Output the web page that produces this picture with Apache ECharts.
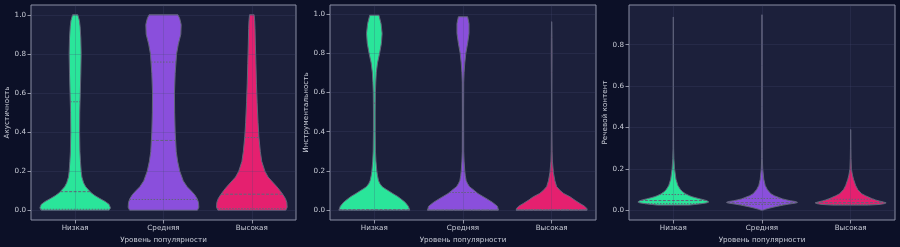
<!DOCTYPE html>
<html><head><meta charset="utf-8">
<script src="https://cdn.jsdelivr.net/npm/echarts@6/dist/echarts.min.js"></script>
<style>html,body{margin:0;padding:0;background:#0c1027;}#c{width:900px;height:247px;}</style>
</head><body><div id="c"></div><script>
const categories = ['Низкая', 'Средняя', 'Высокая'];
const xTicks = [0, 1, 2];
const yTicksFull = [0, 0.2, 0.4, 0.6, 0.8, 1.0];
const yTicksSpeech = [0, 0.2, 0.4, 0.6, 0.8];
const panelTitles = ['Акустичность', 'Инструментальность', 'Речевой контент'];
const xTitle = 'Уровень популярности';

// violin profiles: [value, relative half-width]
const acousticLow = [[0,0.96],[0.012,1.0],[0.03,0.96],[0.045,0.85],[0.06,0.7],[0.075,0.56],[0.09,0.45],[0.1,0.4],[0.12,0.3],[0.14,0.24],[0.17,0.19],[0.2,0.17],[0.25,0.15],[0.3,0.135],[0.4,0.125],[0.5,0.13],[0.6,0.145],[0.7,0.16],[0.8,0.17],[0.88,0.16],[0.94,0.14],[0.97,0.12],[1.0,0.075]];
const acousticMid = [[0,0.96],[0.015,1.0],[0.04,0.99],[0.06,0.95],[0.08,0.88],[0.1,0.78],[0.12,0.67],[0.15,0.56],[0.2,0.46],[0.25,0.4],[0.3,0.36],[0.4,0.33],[0.5,0.315],[0.6,0.31],[0.7,0.33],[0.8,0.37],[0.85,0.42],[0.9,0.49],[0.95,0.5],[0.98,0.46],[1.0,0.41]];
const acousticHigh = [[0,0.96],[0.015,1.0],[0.04,0.99],[0.06,0.95],[0.08,0.88],[0.1,0.8],[0.12,0.71],[0.15,0.56],[0.17,0.46],[0.2,0.37],[0.25,0.28],[0.3,0.24],[0.375,0.2],[0.45,0.175],[0.55,0.15],[0.65,0.13],[0.75,0.115],[0.85,0.1],[0.93,0.09],[0.97,0.08],[1.0,0.065]];
const acousticQuartiles = [[0.005,0.095,0.555],[0.055,0.357,0.758],[0.008,0.082,0.372]];

const instrLow = [[0,1.0],[0.02,0.96],[0.04,0.87],[0.055,0.77],[0.07,0.66],[0.085,0.52],[0.1,0.39],[0.11,0.3],[0.12,0.22],[0.135,0.16],[0.15,0.12],[0.175,0.09],[0.2,0.07],[0.25,0.045],[0.3,0.032],[0.4,0.025],[0.5,0.024],[0.6,0.03],[0.65,0.04],[0.7,0.055],[0.75,0.09],[0.8,0.15],[0.85,0.2],[0.9,0.22],[0.95,0.19],[0.993,0.13]];
const instrMid = [[0,1.0],[0.02,0.97],[0.04,0.83],[0.055,0.7],[0.07,0.56],[0.085,0.42],[0.1,0.32],[0.11,0.25],[0.12,0.18],[0.135,0.13],[0.15,0.09],[0.175,0.065],[0.2,0.05],[0.25,0.03],[0.3,0.02],[0.5,0.017],[0.65,0.02],[0.7,0.03],[0.75,0.05],[0.8,0.08],[0.85,0.13],[0.9,0.17],[0.95,0.17],[0.985,0.13]];
const instrHigh = [[0,1.0],[0.009,0.99],[0.02,0.93],[0.034,0.8],[0.05,0.66],[0.068,0.52],[0.085,0.34],[0.1,0.24],[0.12,0.14],[0.15,0.09],[0.19,0.05],[0.25,0.02],[0.3,0.012],[0.4,0.008],[0.5,0.006],[0.6,0.006],[0.7,0.008],[0.8,0.01],[0.88,0.008],[0.96,0.003]];
const instrQuartiles = [[0.0,0.003,0.545],[0.0,0.0005,0.09],[0.0,0.0,0.003]];

const speechLow = [[0.025,0.45],[0.028,0.6],[0.032,0.8],[0.036,0.95],[0.04,1.0],[0.045,0.96],[0.05,0.88],[0.055,0.76],[0.06,0.64],[0.065,0.54],[0.07,0.46],[0.08,0.34],[0.09,0.26],[0.1,0.2],[0.12,0.13],[0.15,0.075],[0.2,0.035],[0.25,0.015],[0.3,0.008],[0.4,0.005],[0.6,0.004],[0.8,0.003],[0.934,0.002]];
const speechMid = [[0.0,0.02],[0.005,0.1],[0.01,0.2],[0.015,0.32],[0.02,0.45],[0.025,0.6],[0.03,0.76],[0.035,0.95],[0.038,1.0],[0.042,0.95],[0.046,0.8],[0.05,0.7],[0.055,0.58],[0.06,0.5],[0.07,0.35],[0.08,0.25],[0.1,0.15],[0.12,0.09],[0.15,0.05],[0.2,0.02],[0.25,0.01],[0.3,0.006],[0.5,0.004],[0.7,0.003],[0.945,0.002]];
const speechHigh = [[0.025,0.5],[0.028,0.8],[0.032,0.95],[0.036,1.0],[0.04,0.92],[0.045,0.8],[0.05,0.7],[0.055,0.62],[0.06,0.55],[0.07,0.42],[0.08,0.31],[0.1,0.2],[0.12,0.14],[0.15,0.08],[0.17,0.05],[0.2,0.02],[0.25,0.01],[0.3,0.006],[0.39,0.003]];
const speechQuartiles = [[0.032,0.047,0.076],[0.028,0.037,0.057],[0.028,0.037,0.053]];

const colors = ['#2ae59a', '#8a4fdc', '#e5206f'];
const edgeColor = '#62657a';
const HALF = 0.4;
const textColor = '#c8cbd6';
const font = 'DejaVu Sans';
const fs = 7.2;

const panels = [
  { profiles: [acousticLow, acousticMid, acousticHigh], quarts: acousticQuartiles, ymin: -0.05, ymax: 1.05, ticks: yTicksFull, left: 31, width: 265 },
  { profiles: [instrLow, instrMid, instrHigh], quarts: instrQuartiles, ymin: -0.05, ymax: 1.045, ticks: yTicksFull, left: 330, width: 266 },
  { profiles: [speechLow, speechMid, speechHigh], quarts: speechQuartiles, ymin: -0.047, ymax: 0.992, ticks: yTicksSpeech, left: 629, width: 266 }
];

function widthAt(prof, y) {
  if (y <= prof[0][0]) return prof[0][1];
  for (let k = 1; k < prof.length; k++) {
    if (y <= prof[k][0]) {
      const [y0, w0] = prof[k-1], [y1, w1] = prof[k];
      return w0 + (w1 - w0) * (y - y0) / (y1 - y0);
    }
  }
  return prof[prof.length-1][1];
}

const grid = [], xAxis = [], yAxis = [], series = [];
panels.forEach((p, gi) => {
  grid.push({ left: p.left, top: 5, width: p.width, height: 215, show: true, outerBoundsMode: 'none', containLabel: false,
    backgroundColor: '#1c203b', borderColor: '#8a8ea5', borderWidth: 1 });
  xAxis.push({ type: 'value', gridIndex: gi, min: -0.5, max: 2.5, z: 5,
    name: xTitle, nameLocation: 'middle', nameGap: 17,
    nameTextStyle: { color: textColor, fontSize: fs, fontFamily: font },
    axisLine: { show: false, onZero: false },
    axisTick: { show: true, length: 3.5, customValues: xTicks, lineStyle: { color: '#b0b3c2', width: 0.8 } },
    axisLabel: { customValues: xTicks, margin: 5, color: textColor, fontSize: fs, fontFamily: font,
      formatter: v => categories[Math.round(v)] },
    splitLine: { show: true, lineStyle: { color: 'rgba(70,76,118,0.3)', width: 0.8 } } });
  yAxis.push({ type: 'value', gridIndex: gi, min: p.ymin, max: p.ymax, z: 5,
    name: panelTitles[gi], nameLocation: 'middle', nameGap: 19.5, nameRotate: 90,
    nameTextStyle: { color: textColor, fontSize: fs, fontFamily: font },
    axisLine: { show: false, onZero: false },
    axisTick: { show: true, length: 3.5, customValues: p.ticks, lineStyle: { color: '#b0b3c2', width: 0.8 } },
    axisLabel: { customValues: p.ticks, margin: 5, color: textColor, fontSize: fs, fontFamily: font,
      formatter: v => v.toFixed(1) },
    splitLine: { show: true, lineStyle: { color: 'rgba(70,76,118,0.3)', width: 0.8 } } });
  series.push({
    type: 'custom', xAxisIndex: gi, yAxisIndex: gi, z: 2,
    encode: { x: 0, y: 1 },
    data: xTicks.map(i => [i, 0]),
    renderItem: (params, api) => {
      const i = api.value(0);
      const prof = p.profiles[i];
      const pts = [];
      prof.forEach(([y, w]) => pts.push(api.coord([i + w * HALF, y])));
      for (let k = prof.length - 1; k >= 0; k--) pts.push(api.coord([i - prof[k][1] * HALF, prof[k][0]]));
      const children = [{ type: 'polygon', shape: { points: pts },
        style: { fill: colors[i], stroke: edgeColor, lineWidth: 1 } }];
      p.quarts[i].forEach((q, k) => {
        const w = widthAt(prof, q);
        const a = api.coord([i - w * HALF, q]), b = api.coord([i + w * HALF, q]);
        children.push({ type: 'line', shape: { x1: a[0], y1: a[1], x2: b[0], y2: b[1] },
          style: { stroke: edgeColor, lineWidth: 1, lineDash: k === 1 ? [3, 1.5] : [1.5, 1.5] } });
      });
      return { type: 'group', children };
    }
  });
});

const chart = echarts.init(document.getElementById('c'), null, { renderer: 'canvas' });
chart.setOption({ backgroundColor: '#0c1027', animation: false, grid, xAxis, yAxis, series });
</script></body></html>
